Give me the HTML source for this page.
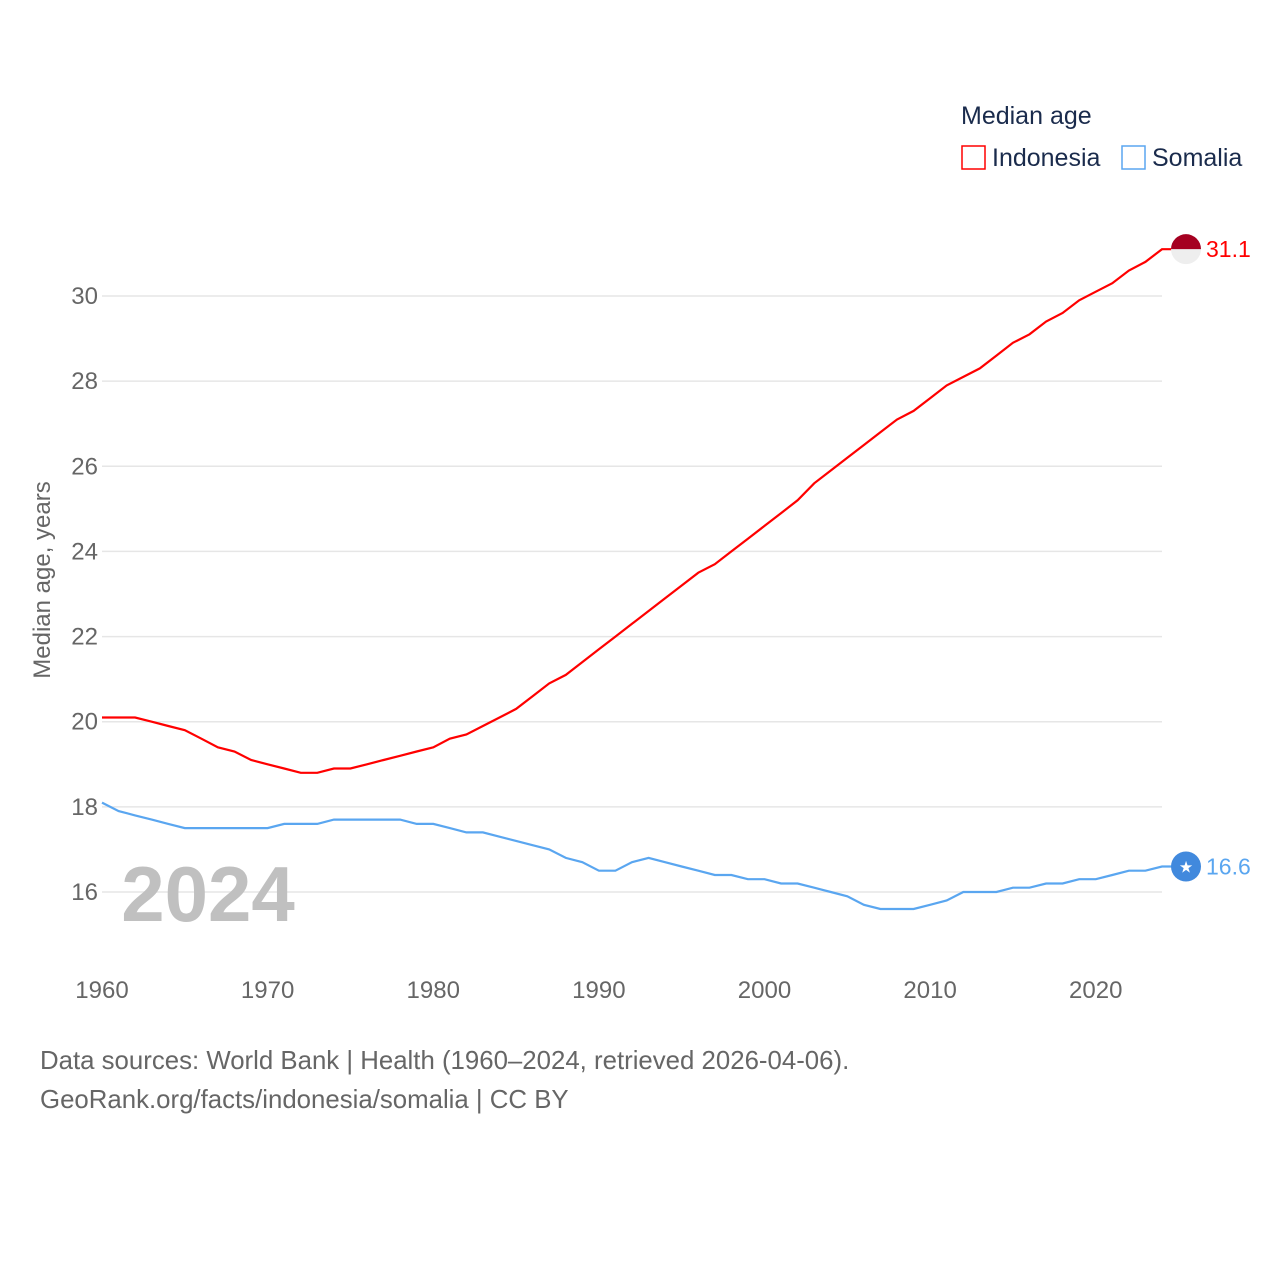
<!DOCTYPE html>
<html><head><meta charset="utf-8"><style>
body{margin:0;background:#fff;font-family:"Liberation Sans",sans-serif}
svg text{font-family:"Liberation Sans",sans-serif}
</style></head><body>
<svg id="chart" width="1280" height="1280" viewBox="0 0 1280 1280">
<g>
<text x="961" y="124" font-size="25" fill="#1a2b4c">Median age</text>
<rect x="962" y="146" width="23" height="23" fill="none" stroke="#ff0000" stroke-width="1.5"/>
<text x="992" y="166" font-size="25" fill="#1a2b4c">Indonesia</text>
<rect x="1122" y="146" width="23" height="23" fill="none" stroke="#5aa6f0" stroke-width="1.5"/>
<text x="1152" y="166" font-size="25" fill="#1a2b4c">Somalia</text>
</g>
<g id="grid"></g>
<g id="lines"></g>
<text x="208" y="921" font-size="78" font-weight="bold" fill="#c0c0c0" text-anchor="middle">2024</text>
<text transform="translate(50,580) rotate(-90)" font-size="24" fill="#666" text-anchor="middle">Median age, years</text>
<text x="40" y="1069" font-size="25.8" fill="#666">Data sources: World Bank | Health (1960–2024, retrieved 2026-04-06).</text>
<text x="40" y="1108" font-size="25.8" fill="#666">GeoRank.org/facts/indonesia/somalia | CC BY</text>
</svg>
<script>
const years=[];for(let y=1960;y<=2024;y++)years.push(y);
const indonesia=[20.1,20.1,20.1,20.0,19.9,19.8,19.6,19.4,19.3,19.1,19.0,18.9,18.8,18.8,18.9,18.9,19.0,19.1,19.2,19.3,19.4,19.6,19.7,19.9,20.1,20.3,20.6,20.9,21.1,21.4,21.7,22.0,22.3,22.6,22.9,23.2,23.5,23.7,24.0,24.3,24.6,24.9,25.2,25.6,25.9,26.2,26.5,26.8,27.1,27.3,27.6,27.9,28.1,28.3,28.6,28.9,29.1,29.4,29.6,29.9,30.1,30.3,30.6,30.8,31.1];
const somalia=[18.1,17.9,17.8,17.7,17.6,17.5,17.5,17.5,17.5,17.5,17.5,17.6,17.6,17.6,17.7,17.7,17.7,17.7,17.7,17.6,17.6,17.5,17.4,17.4,17.3,17.2,17.1,17.0,16.8,16.7,16.5,16.5,16.7,16.8,16.7,16.6,16.5,16.4,16.4,16.3,16.3,16.2,16.2,16.1,16.0,15.9,15.7,15.6,15.6,15.6,15.7,15.8,16.0,16.0,16.0,16.1,16.1,16.2,16.2,16.3,16.3,16.4,16.5,16.5,16.6];
const yTicks=[16,18,20,22,24,26,28,30];
const xTicks=[1960,1970,1980,1990,2000,2010,2020];
const NS="http://www.w3.org/2000/svg";
const xs=y=>102+(y-1960)*(1162-102)/64;
const ys=v=>296+(30-v)*(892-296)/14;
function mk(tag,attrs,parent){const e=document.createElementNS(NS,tag);for(const k in attrs)e.setAttribute(k,attrs[k]);parent.appendChild(e);return e;}
const grid=document.getElementById('grid'),lines=document.getElementById('lines');
yTicks.forEach(t=>{
 const l=mk('line',{x1:102,x2:1162,y1:ys(t),y2:ys(t),stroke:'#e6e6e6','stroke-width':1.5},grid);
 
 
 const tx=mk('text',{x:98,y:ys(t)+8,'font-size':24,fill:'#666','text-anchor':'end'},grid);tx.textContent=t;
 
 
});
xTicks.forEach(t=>{
 const tx=mk('text',{x:xs(t),y:998,'font-size':24,fill:'#666','text-anchor':'middle'},grid);tx.textContent=t;
 
 
});
function series(vals,color,name,label){
 let d=vals.map((v,i)=>(i?'L':'M')+xs(years[i]).toFixed(1)+','+ys(v).toFixed(1)).join('');
 const last=vals[vals.length-1];
 d+='L1186,'+ys(last).toFixed(1);
 const p=mk('path',{d,fill:'none',stroke:color,'stroke-width':2.2},lines);
 
 
 const t=mk('text',{x:1206,y:ys(last)+8,'font-size':23,fill:color},lines);t.textContent=label;
 
 
 return ys(last);
}
const yi=series(indonesia,'#ff0000','indonesia',indonesia[indonesia.length-1].toFixed(1));
const yso=series(somalia,'#5aa6f0','somalia',somalia[somalia.length-1].toFixed(1));
const g1=mk('g',{},lines);


mk('circle',{cx:1186,cy:yi,r:15,fill:'#eeeeee'},g1);
mk('path',{d:`M1171,${yi} A15,15 0 0 1 1201,${yi} Z`,fill:'#a50021'},g1);
const g2=mk('g',{},lines);


mk('circle',{cx:1186,cy:yso,r:15,fill:'#4189dd'},g2);
const st=mk('text',{x:1186,y:yso+6,'font-size':16,fill:'#fff','text-anchor':'middle'},g2);st.textContent='★';
</script>
</body></html>
